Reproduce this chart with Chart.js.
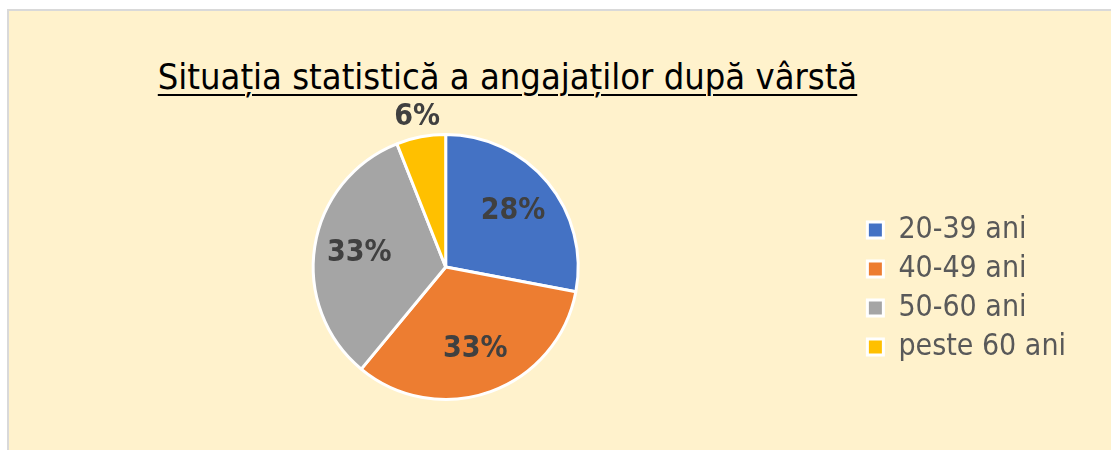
<!DOCTYPE html>
<html>
<head>
<meta charset="utf-8">
<script src="https://cdn.jsdelivr.net/npm/chart.js@4.4.1/dist/chart.umd.min.js"></script>
<style>
  body { margin: 0; background: #fff; }
  #panel {
    position: absolute; left: 7px; top: 9px; right: 0; bottom: 0;
    background: #FFF2CC;
    border-left: 2px solid #D9D9D9; border-top: 2px solid #D9D9D9;
  }
  #title {
    position: absolute; left: 0; width: 1015px; top: 56px; text-align: center;
    font-family: "DejaVu Sans Condensed", "DejaVu Sans", sans-serif;
    font-size: 36px; color: #000; text-decoration: underline;
    text-underline-offset: 5px; text-decoration-thickness: 2px;
  }
  #wrap { position: absolute; left: 0; top: 0; width: 1111px; height: 450px; }
</style>
</head>
<body>
<div id="panel"></div>
<div id="title">Situația statistică a angajaților după vârstă</div>
<div id="wrap"><canvas id="pie-chartcanvas" width="1111" height="450"></canvas></div>
<script>
// categories and values (percent)
var categories = ['20-39 ani', '40-49 ani', '50-60 ani', 'peste 60 ani'];
var values = [28, 33, 33, 6];
var colors = ['#4472C4', '#ED7D31', '#A5A5A5', '#FFC000'];

var labelFont = '"DejaVu Sans Condensed", "DejaVu Sans", sans-serif';

// percentage labels on the slices
var sliceLabels = {
    id: 'sliceLabels',
    afterDatasetsDraw: function(chart) {
        var ctx = chart.ctx;
        var meta = chart.getDatasetMeta(0);
        var total = values.reduce(function(a, b) { return a + b; }, 0);
        ctx.save();
        ctx.font = 'bold 30px ' + labelFont;
        ctx.fillStyle = '#404040';
        ctx.textAlign = 'center';
        ctx.textBaseline = 'middle';
        meta.data.forEach(function(arc, i) {
            var p = arc.getProps(['x', 'y', 'startAngle', 'endAngle', 'outerRadius'], true);
            var mid = (p.startAngle + p.endAngle) / 2;
            var pct = Math.round(values[i] / total * 100);
            // small slices get the label outside
            var r = pct < 10 ? p.outerRadius + 20 : p.outerRadius * 0.66;
            ctx.fillText(pct + '%', p.x + Math.cos(mid) * r, p.y + Math.sin(mid) * r);
        });
        ctx.restore();
    }
};

var ctx = document.getElementById('pie-chartcanvas');

var data = {
    labels: categories,
    datasets: [{
        data: values,
        backgroundColor: colors,
        borderColor: '#FFFFFF',
        borderWidth: 3
    }]
};

var options = {
    responsive: false,
    animation: false,
    layout: {
        padding: { left: 33, right: 35, top: 133, bottom: 49 }
    },
    plugins: {
        title: { display: false },
        tooltip: { enabled: false },
        legend: {
            display: true,
            position: 'right',
            align: 'center',
            title: {
                display: true,
                text: ' ',
                font: { size: 10 },
                padding: { top: 31, bottom: 0 }
            },
            labels: {
                boxWidth: 16,
                boxHeight: 16,
                padding: 9,
                color: '#595959',
                font: { family: labelFont, size: 30 }
            }
        }
    }
};

var chart = new Chart(ctx, {
    type: 'pie',
    data: data,
    options: options,
    plugins: [sliceLabels]
});
</script>
</body>
</html>
